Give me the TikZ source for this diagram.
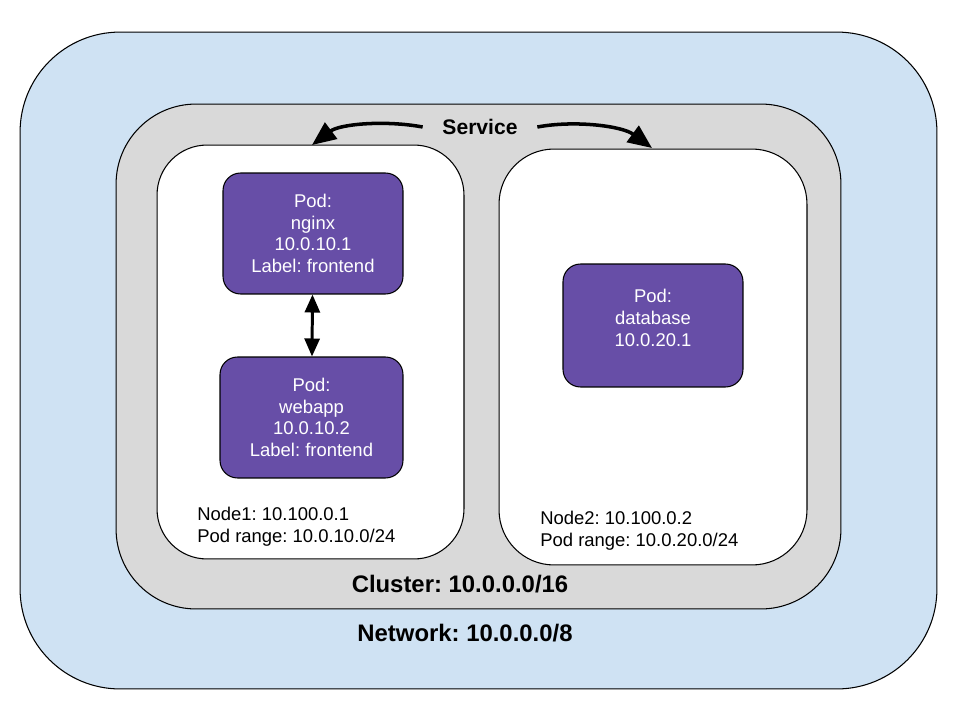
\documentclass[tikz,border=0pt]{standalone}
\usepackage{fontspec}
\setmainfont{Liberation Sans}
\usetikzlibrary{arrows.meta}
\definecolor{netblue}{RGB}{207,226,243}
\definecolor{clustergray}{RGB}{217,217,217}
\definecolor{podpurple}{RGB}{103,78,167}
\frenchspacing

\begin{document}
\begin{tikzpicture}[x=0.02cm,y=-0.02cm,
    box/.style={shape=rectangle,draw=black,line width=0.6pt,inner sep=0pt},
    pod/.style={box,fill=podpurple,text=white,align=center,rounded corners=0.35cm,minimum width=3.6cm,minimum height=2.42cm,font=\fontsize{10.5}{12.4}\selectfont},
    info/.style={anchor=west,align=left,inner sep=0pt,font=\fontsize{10.5}{12.5}\selectfont},
    title/.style={inner sep=0pt,font=\bfseries\fontsize{13.6}{16}\selectfont},
    link/.style={line width=1.7pt,{Triangle[length=0.36cm,width=0.3cm]}-{Triangle[length=0.36cm,width=0.3cm]}},
    svcarrow/.style={line width=2pt,-{Triangle[length=0.48cm,width=0.4cm]}}]
    \useasboundingbox (0,0) rectangle (960,720);

    % network and cluster
    \node[box,fill=netblue,rounded corners=2cm,minimum width=18.34cm,minimum height=13.14cm] (net) at (478.5,360.5) {};
    \node[box,fill=clustergray,rounded corners=1.6cm,minimum width=14.5cm,minimum height=10.1cm] (clu) at (478.5,356.5) {};

    % hosts
    \node[box,fill=white,rounded corners=1cm,minimum width=6.14cm,minimum height=8.28cm] (host1) at (310.5,352) {};
    \node[box,fill=white,rounded corners=1.1cm,minimum width=6.16cm,minimum height=8.32cm] (host2) at (653,357) {};

    % pods
    \node[pod] (nginx) at (313,233.5) {Pod:\\nginx\\10.0.10.1\\Label: frontend};
    \node[pod,minimum width=3.66cm] (webapp) at (311.5,417.5) {Pod:\\webapp\\10.0.10.2\\Label: frontend};
    \node[pod,minimum height=2.46cm] (db) at (653,325.5) {Pod:\\database\\10.0.20.1\\[-3.5pt]\mbox{}};

    \draw[link] (nginx) -- (webapp);

    % service
    \node[inner xsep=0.39cm,inner ysep=0pt,font=\bfseries\fontsize{12}{14}\selectfont] (svc) at (480,127) {Service};
    \coordinate (svcL) at (312,145);
    \coordinate (svcR) at (652,148);
    \draw[svcarrow] (svc.west) .. controls (385,120) and (340,124) .. (svcL);
    \draw[svcarrow] (svc.east) .. controls (575,120) and (622,126) .. (svcR);

    % labels
    \node[info] (info1) at (197,527) {Node1: 10.100.0.1\\Pod range: 10.0.10.0/24};
    \node[info] (info2) at (540,531) {Node2: 10.100.0.2\\Pod range: 10.0.20.0/24};
    \node[title] (clulabel) at (460,584) {Cluster: 10.0.0.0/16};
    \node[title] (netlabel) at (465,633) {Network: 10.0.0.0/8};
\end{tikzpicture}
\end{document}
